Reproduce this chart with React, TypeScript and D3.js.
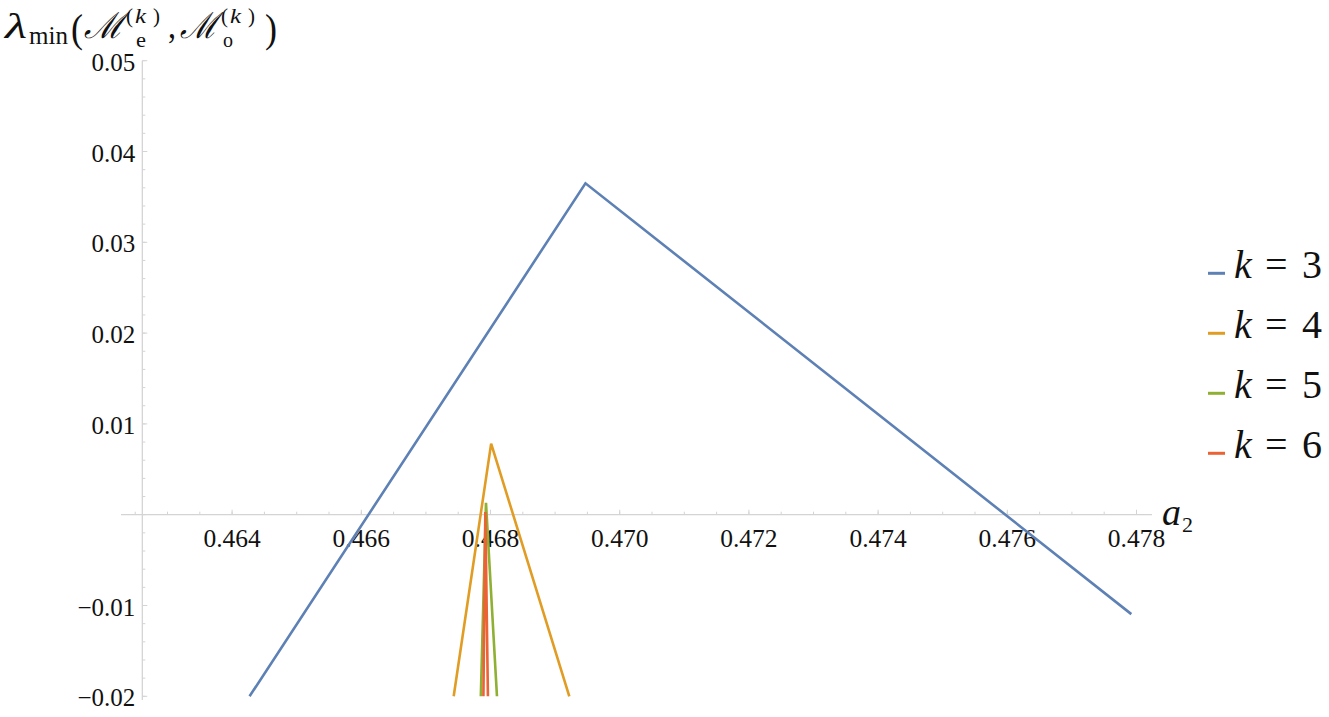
import React, { useRef, useEffect } from 'react';
import * as d3 from 'd3';

// series (a2, lambda_min)
const seriesNames = ['k = 3', 'k = 4', 'k = 5', 'k = 6'];
const seriesDigits = ['3', '4', '5', '6'];
const seriesColors = ['#5E81B5', '#E19C24', '#8FB032', '#EB6235'];

const k3X = [0.46427, 0.46947, 0.47792];
const k3Y = [-0.02, 0.0365, -0.01095];
const k4X = [0.46743, 0.46801, 0.46922];
const k4Y = [-0.02, 0.00783, -0.02];
const k5X = [0.46785, 0.46793, 0.4681];
const k5Y = [-0.02, 0.0013, -0.02];
const k6X = [0.46789, 0.46792, 0.46796];
const k6Y = [-0.02, 0.0003, -0.02];

const xTickValues = [0.464, 0.466, 0.468, 0.47, 0.472, 0.474, 0.476, 0.478];
const xTickLabels = ['0.464', '0.466', '0.468', '0.470', '0.472', '0.474', '0.476', '0.478'];
const yTickValues = [-0.02, -0.01, 0.01, 0.02, 0.03, 0.04, 0.05];
const yTickLabels = ['\u22120.02', '\u22120.01', '0.01', '0.02', '0.03', '0.04', '0.05'];

const xOrigin = 0.46261; // where the vertical axis sits

const W = 1329;
const H = 717;
const FONT = 'Liberation Serif, DejaVu Serif, serif';

// pieces of the axis label lambda_min(M_e^(k), M_o^(k)): [text, x, y, size, italic, width]
const labelParts: [string, number, number, number, boolean, number][] = [
  ['λ', 5, 38, 36, true, 22],
  ['min', 29, 44, 25, false, 39],
  ['(', 71, 42, 40, false, 12],
  ['ℳ', 84, 38, 36, true, 40],
  ['(', 126, 23, 22, false, 7],
  ['k', 135, 23, 22, true, 11],
  [')', 153, 23, 22, false, 7],
  ['e', 136, 47, 20, false, 10],
  [',', 168, 38, 36, false, 8],
  ['ℳ', 180, 38, 36, true, 38],
  ['(', 221, 23, 22, false, 7],
  ['k', 230, 23, 22, true, 11],
  [')', 248, 23, 22, false, 7],
  ['o', 223, 47, 20, false, 10],
  [')', 265, 42, 40, false, 12],
];

const App = () => {
  const gRef = useRef(null);

  useEffect(() => {
    const svg = d3.select(gRef.current);
    svg.selectAll('*').remove();

    // x axis spans 121..1152 px, y from 0.05 (60.7) to -0.02 (696.3)
    const x = d3.scaleLinear().domain([0.46228, 0.47824]).range([121, 1152]);
    const y = d3.scaleLinear().domain([-0.02, 0.05]).range([696.3, 60.7]);

    const axisColor = '#d4d4d4';
    const g = svg.append('g');

    // x axis
    g.append('line')
      .attr('x1', x.range()[0]).attr('x2', x.range()[1])
      .attr('y1', y(0)).attr('y2', y(0))
      .attr('stroke', axisColor).attr('stroke-width', 1.3);
    const xMinor = d3.range(0.4625, 0.47801, 0.0005);
    g.selectAll('.xminor').data(xMinor).join('line')
      .attr('x1', d => x(d)).attr('x2', d => x(d))
      .attr('y1', y(0)).attr('y2', y(0) - 3)
      .attr('stroke', axisColor).attr('stroke-width', 1);
    g.selectAll('.xmajor').data(xTickValues).join('line')
      .attr('x1', d => x(d)).attr('x2', d => x(d))
      .attr('y1', y(0)).attr('y2', y(0) - 5)
      .attr('stroke', axisColor).attr('stroke-width', 1);
    g.selectAll('.xlab').data(xTickValues).join('text')
      .attr('x', d => x(d)).attr('y', y(0) + 32)
      .attr('text-anchor', 'middle')
      .attr('font-family', FONT).attr('font-size', 25.5)
      .attr('fill', '#111')
      .text((d, i) => xTickLabels[i]);

    // y axis
    g.append('line')
      .attr('x1', x(xOrigin)).attr('x2', x(xOrigin))
      .attr('y1', y(0.05)).attr('y2', 700)
      .attr('stroke', axisColor).attr('stroke-width', 1.3);
    const yMinor = d3.range(-0.02, 0.05001, 0.002);
    g.selectAll('.yminor').data(yMinor).join('line')
      .attr('x1', x(xOrigin)).attr('x2', x(xOrigin) + 3)
      .attr('y1', d => y(d)).attr('y2', d => y(d))
      .attr('stroke', axisColor).attr('stroke-width', 1);
    g.selectAll('.ymajor').data(yTickValues).join('line')
      .attr('x1', x(xOrigin)).attr('x2', x(xOrigin) + 5)
      .attr('y1', d => y(d)).attr('y2', d => y(d))
      .attr('stroke', axisColor).attr('stroke-width', 1);
    g.selectAll('.ylab').data(yTickValues).join('text')
      .attr('x', x(xOrigin) - 7).attr('y', d => y(d) + 10)
      .attr('text-anchor', 'end')
      .attr('font-family', FONT).attr('font-size', 25)
      .attr('fill', '#111')
      .text((d, i) => yTickLabels[i]);

    // series lines
    const allSeries = [
      k3X.map((v, i) => [v, k3Y[i]]),
      k4X.map((v, i) => [v, k4Y[i]]),
      k5X.map((v, i) => [v, k5Y[i]]),
      k6X.map((v, i) => [v, k6Y[i]]),
    ];
    const line = d3.line().x(d => x(d[0])).y(d => y(d[1]));
    svg.append('g')
      .selectAll('path')
      .data(allSeries)
      .join('path')
      .attr('d', d => line(d))
      .attr('fill', 'none')
      .attr('stroke', (d, i) => seriesColors[i])
      .attr('stroke-width', 2.6)
      .attr('stroke-linejoin', 'miter');

    // x axis label a_2
    svg.append('text').attr('font-family', FONT).attr('fill', '#111')
      .attr('x', 1162).attr('y', 525)
      .attr('font-style', 'italic').attr('font-size', 38).text('a');
    svg.append('text').attr('font-family', FONT).attr('fill', '#111')
      .attr('x', 1182).attr('y', 532)
      .attr('font-size', 22).text('2');

    // y axis label, piece by piece
    svg.append('g').selectAll('text').data(labelParts).join('text')
      .attr('x', d => d[1]).attr('y', d => d[2])
      .attr('font-family', FONT).attr('font-size', d => d[3])
      .attr('font-style', d => (d[4] ? 'italic' : 'normal'))
      .attr('textLength', d => d[5]).attr('lengthAdjust', 'spacingAndGlyphs')
      .attr('fill', '#111')
      .text(d => d[0]);

    // legend
    const leg = svg.append('g');
    seriesNames.forEach((name, i) => {
      const ly = 273.3 + i * 60;
      leg.append('line')
        .attr('x1', 1208).attr('x2', 1225).attr('y1', ly).attr('y2', ly)
        .attr('stroke', seriesColors[i]).attr('stroke-width', 3);
      const t = leg.append('text').attr('font-family', FONT).attr('font-size', 40).attr('fill', '#111');
      t.append('tspan').attr('x', 1234).attr('y', ly + 5).attr('font-style', 'italic').text('k');
      t.append('tspan').attr('x', 1265).attr('y', ly + 5).text('=');
      t.append('tspan').attr('x', 1302).attr('y', ly + 5).text(seriesDigits[i]);
    });
  }, []);

  return (
    <svg width={W} height={H} viewBox={`0 0 ${W} ${H}`}
      style={{ position: 'absolute', left: 0, top: 0, display: 'block', background: '#fff' }}>
      <g ref={gRef} />
    </svg>
  );
};

export default App;
